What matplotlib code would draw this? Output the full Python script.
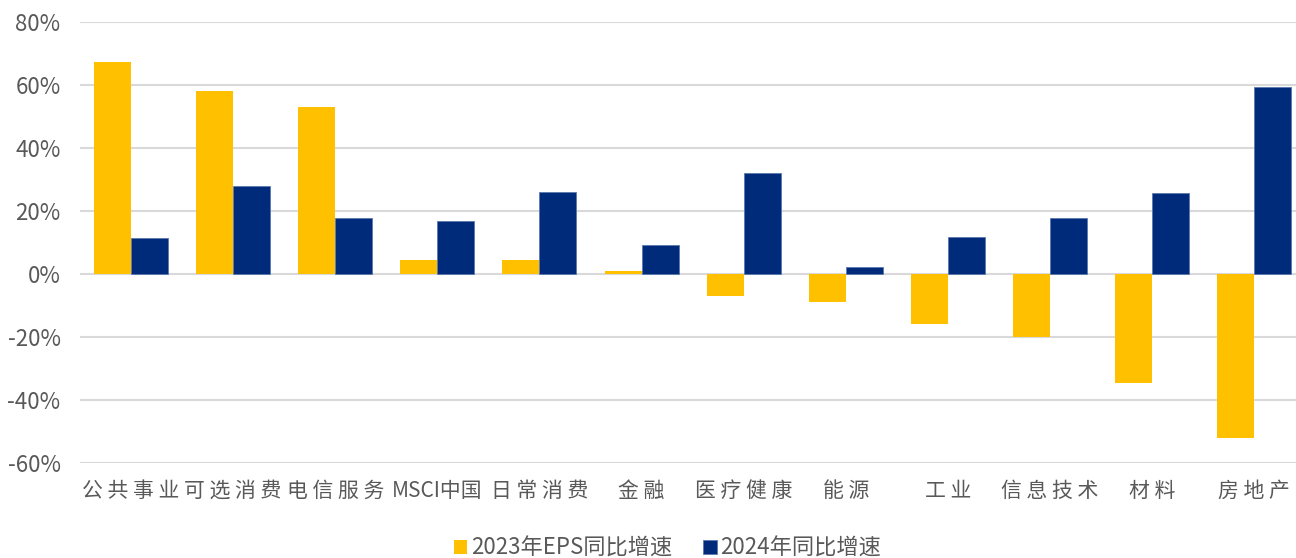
import matplotlib.pyplot as plt
import numpy as np

plt.rcParams['font.family'] = ['Noto Sans CJK SC', 'DejaVu Sans']

# categories and values (%)
sectors = ['公共事业', '可选消费', '电信服务', 'MSCI中国', '日常消费', '金融',
           '医疗健康', '能源', '工业', '信息技术', '材料', '房地产']
eps_2023 = [67.3, 58.1, 53.0, 4.4, 4.4, 1.0, -7.0, -8.9, -15.9, -20.0, -34.6, -52.1]
growth_2024 = [11.4, 27.9, 17.8, 16.8, 26.0, 9.2, 32.1, 2.2, 11.7, 17.8, 25.7, 59.4]
yticks = [-60, -40, -20, 0, 20, 40, 60, 80]

fig = plt.figure(figsize=(12.96, 5.58), dpi=100)
ax = fig.add_axes([80 / 1296, 95 / 558, 1216 / 1296, 441 / 558])

x = np.arange(len(sectors))
w = 0.362
ax.bar(x - w / 2, eps_2023, w, color='#FFC000', label='2023年EPS同比增速', zorder=3)
ax.bar(x + w / 2, growth_2024, w, color='#002A7A', edgecolor='#5a78b0', linewidth=0.6,
       label='2024年同比增速', zorder=3)

ax.set_ylim(-60, 80)
ax.set_xlim(-0.5, -0.5 + 1216 / 102.1)
ax.set_yticks(yticks)
ax.set_yticklabels([f'{v}%' for v in yticks], fontsize=16, color='#595959')
ax.set_xticks(x)
# spaced-out look of the original labels
ax.set_xticklabels([' '.join(s) if s != 'MSCI中国' else s for s in sectors],
                   fontsize=15, color='#595959')
ax.tick_params(axis='both', length=0)
ax.tick_params(axis='x', pad=12)
ax.tick_params(axis='y', pad=14)
ax.grid(axis='y', color='#D9D9D9', linewidth=1.5, zorder=0)
for s in ax.spines.values():
    s.set_visible(False)

fig.legend(loc='center', bbox_to_anchor=(0.515, 0.018), ncol=2, frameon=False,
           fontsize=16, labelcolor='#595959', handlelength=0.6, handleheight=0.6,
           handletextpad=0.15, columnspacing=1.4, borderaxespad=0)

fig.savefig('out.png', dpi=100)
